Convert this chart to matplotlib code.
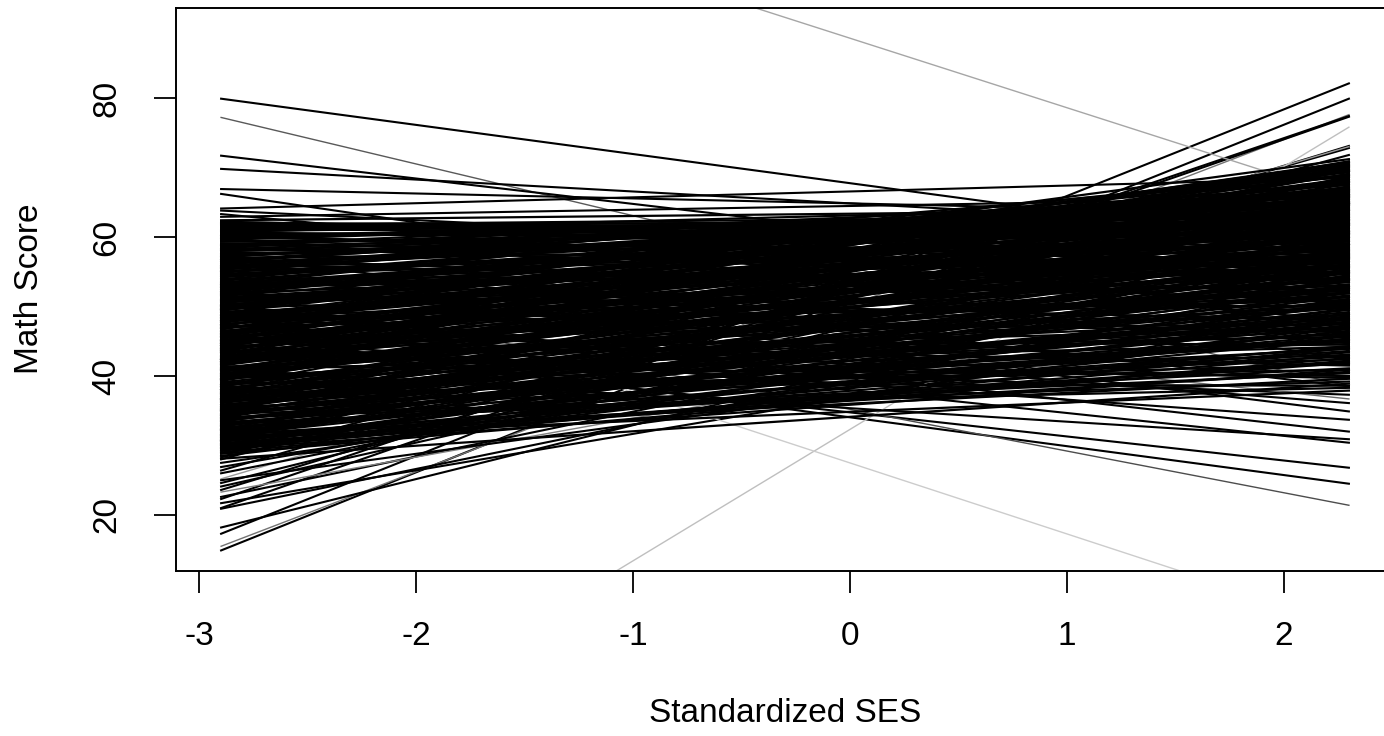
import matplotlib
matplotlib.use('Agg')
import matplotlib.pyplot as plt

# SES range covered by each school's fitted line
x_left = -2.9
x_right = 2.3

# fitted math score at the low / high end of SES, one entry per school (bulk of schools)
left_end = [
    62.4, 62.0, 61.7, 61.5, 61.1, 60.7, 60.6, 60.2, 59.9, 59.7,
    59.3, 59.0, 58.8, 58.3, 58.2, 57.9, 57.5, 57.4, 57.0, 56.7,
    56.6, 56.3, 55.9, 55.8, 55.3, 55.1, 54.9, 54.5, 54.3, 54.0,
    53.9, 53.5, 53.2, 53.1, 52.7, 52.4, 52.3, 51.9, 51.6, 51.5,
    51.1, 50.8, 50.7, 50.3, 50.0, 49.9, 49.5, 49.2, 49.1, 48.7,
    48.6, 48.3, 47.9, 47.8, 47.3, 47.1, 46.9, 46.5, 46.3, 46.0,
    45.9, 45.5, 45.4, 44.9, 44.7, 44.6, 44.2, 43.9, 43.8, 43.4,
    43.1, 42.9, 42.5, 42.3, 42.0, 41.9, 41.5, 41.2, 41.0, 40.7,
    40.4, 40.3, 39.9, 39.6, 39.5, 39.1, 38.8, 38.7, 38.3, 38.0,
    37.9, 37.5, 37.2, 37.1, 36.7, 36.4, 36.2, 35.9, 35.6, 35.5,
    35.1, 34.8, 34.7, 34.3, 34.0, 33.9, 33.5, 33.2, 33.1, 32.7,
    32.4, 32.3, 31.9, 31.6, 31.5, 31.1, 30.8, 30.7, 30.3, 30.0,
    29.9, 29.5, 29.4, 29.0,
    61.9, 61.3, 60.4, 59.6, 58.6, 57.7, 57.1, 56.1, 55.5, 54.7,
    53.7, 52.9, 52.1, 51.3, 50.5, 49.7, 49.0, 48.1, 47.5, 46.7,
    46.2, 45.7, 45.1, 44.4, 44.0, 43.6, 42.7, 42.2, 41.7, 41.1,
    40.6, 40.0, 39.3, 38.9, 38.5, 37.7, 37.4, 36.9, 36.6, 36.1,
    35.8, 35.3, 34.9, 34.5, 34.2, 33.7, 33.4, 32.9, 32.6, 32.1,
    31.8, 31.3, 30.9, 30.5, 30.2, 29.7, 29.2, 28.8, 28.5, 28.1,
    60.0, 58.5, 56.9, 55.0, 53.4, 51.8, 50.2, 48.9, 47.0, 45.2,
    43.3, 41.4, 39.8, 38.2, 36.3, 34.6, 33.0, 31.0, 62.1, 60.8,
    50.0, 48.4, 46.8, 45.0, 43.5, 42.0, 40.9, 39.4, 37.9, 36.6,
    55.6, 52.6, 49.4, 47.6, 44.3, 41.5, 38.4, 35.0, 32.2, 30.6,
    61.6, 60.9, 60.1, 59.4, 58.7, 58.0, 57.2, 56.4, 55.7, 55.0,
    54.2, 53.4, 52.6, 51.8, 51.0, 50.2, 49.4, 48.6, 47.8, 47.0,
    46.4, 45.6, 44.8, 44.1, 43.3, 42.5, 41.8, 41.0, 40.2, 39.5,
    38.7, 38.0, 37.3, 36.5, 35.8, 35.0, 34.3, 33.6, 32.8, 32.1,
    31.4, 30.6, 30.0, 29.6, 45.3, 43.0, 39.0, 36.8, 34.0, 31.2,
    47.9, 45.1, 43.7, 42.3, 52.0, 49.6, 47.2, 44.6, 42.8, 40.8,
    62.2, 61.2, 60.3, 58.9, 57.5, 56.1, 54.6, 53.0, 51.4, 49.8,
    48.0, 46.5, 44.9, 43.0, 41.2, 39.7, 37.6, 35.4, 33.3, 31.5,
    53.0, 50.6, 48.2, 46.0, 43.9, 42.4, 40.1, 37.0, 35.2, 33.8,
    58.0, 55.4, 52.8, 50.9, 48.8, 47.3, 45.6, 44.3, 42.2, 39.9,
]
right_end = [
    64.1, 57.9, 63.2, 62.7, 60.4, 65.0, 59.8, 61.6, 63.5, 64.6,
    60.7, 62.5, 66.0, 55.4, 64.8, 63.9, 61.9, 60.8, 58.6, 66.3,
    65.5, 63.0, 57.1, 67.0, 65.2, 60.3, 68.9, 62.6, 66.9, 54.8,
    67.7, 59.4, 64.3, 69.5, 56.2, 62.1, 66.6, 58.0, 68.1, 63.8,
    52.9, 61.2, 65.7, 57.6, 69.0, 60.0, 64.9, 55.8, 67.2, 62.4,
    58.7, 66.1, 53.6, 61.5, 68.3, 50.9, 63.6, 57.2, 65.0, 59.9,
    62.9, 55.0, 67.0, 48.7, 60.6, 64.6, 52.3, 58.4, 63.1, 56.6,
    61.0, 46.9, 54.1, 65.4, 59.1, 51.4, 62.2, 56.9, 44.6, 60.2,
    53.2, 63.3, 57.7, 49.8, 61.7, 55.6, 43.0, 59.5, 51.9, 57.0,
    47.8, 60.9, 54.4, 41.7, 58.2, 50.2, 56.1, 45.3, 53.0, 59.0,
    48.9, 55.3, 42.8, 51.6, 57.5, 46.2, 53.8, 40.4, 49.5, 55.9,
    44.1, 52.6, 47.3, 50.5, 39.6, 54.5, 45.7, 49.0, 42.2, 51.1,
    46.5, 40.9, 48.3, 44.0,
    62.1, 61.1, 59.8, 64.3, 62.3, 59.1, 66.0, 64.0, 67.5, 61.4,
    65.6, 57.3, 69.3, 60.8, 63.2, 66.8, 58.3, 64.2, 55.7, 69.7,
    61.3, 66.2, 57.9, 62.5, 54.7, 67.6, 59.7, 50.0, 63.9, 53.5,
    58.1, 46.0, 64.0, 54.0, 60.4, 52.0, 57.8, 48.4, 62.0, 54.2,
    50.8, 57.1, 45.0, 60.0, 52.7, 48.1, 56.5, 51.9, 43.6, 53.9,
    47.6, 55.1, 43.4, 49.7, 53.0, 45.4, 50.3, 42.6, 47.1, 38.9,
    56.3, 53.9, 50.8, 60.1, 55.0, 48.0, 57.0, 46.3, 51.3, 44.5,
    52.7, 40.0, 47.0, 40.9, 44.9, 38.3, 41.1, 37.9, 60.3, 63.0,
    70.2, 68.9, 70.5, 69.8, 68.1, 69.1, 66.5, 67.3, 65.8, 64.7,
    66.0, 65.5, 71.2, 70.8, 70.3, 70.4, 69.6, 68.7, 66.2, 64.9,
    61.7, 63.0, 63.8, 60.5, 64.8, 60.6, 65.1, 66.8, 62.8, 66.6,
    64.5, 68.7, 61.0, 66.4, 59.6, 63.4, 67.9, 60.9, 64.4, 57.6,
    65.8, 59.0, 62.0, 55.7, 65.1, 57.2, 60.7, 52.8, 58.9, 62.6,
    55.0, 59.4, 50.6, 57.3, 53.6, 49.2, 54.9, 47.7, 51.4, 45.9,
    48.6, 44.3, 41.9, 43.1, 41.5, 39.7, 38.6, 42.4, 39.2, 40.6,
    70.7, 70.0, 69.5, 70.9, 67.0, 70.1, 68.4, 67.9, 66.0, 65.2,
    58.9, 62.0, 54.6, 57.4, 60.9, 52.2, 58.8, 55.5, 49.9, 54.1,
    50.2, 47.4, 52.0, 45.6, 48.1, 44.2, 46.7, 43.9, 45.2, 42.0,
    62.7, 59.0, 56.0, 63.5, 58.6, 61.8, 55.3, 52.4, 56.8, 50.0,
    64.0, 64.9, 65.9, 62.9, 61.8, 66.7, 57.5, 61.9, 55.9, 60.5,
]

# schools that stand apart from the bulk, with their line shade (0 = black)
outlier_left = [
    79.9, 77.2, 71.7, 69.8, 66.9, 66.2, 64.1, 63.8, 63.3, 62.9,
    14.9, 15.5, 17.3, 18.2, 21.0, 22.3, 23.6, 26.4, 28.0, 25.2,
    20.9, 21.7, 22.6, 23.3, 24.1, 25.0, 26.0, 26.9, 27.5, 28.3, 28.9, 24.6,
    44.8, 46.1, 52.6, 47.5, 50.2, 45.3, 55.0, 48.8, 43.5, 57.2, 41.0, 53.7,
    117.6, -22.5, 57.1,
]
outlier_right = [
    58.1, 38.5, 52.7, 60.9, 63.2, 42.5, 68.5, 55.8, 47.9, 65.7,
    79.9, 77.6, 82.1, 58.5, 77.3, 77.4, 73.1, 72.8, 71.8, 73.0,
    54.0, 49.0, 56.2, 52.4, 60.6, 47.0, 58.0, 54.9, 50.6, 62.4, 57.4, 64.8,
    26.8, 24.5, 21.4, 30.4, 32.0, 33.7, 34.9, 36.1, 37.3, 38.5, 30.9, 36.7,
    65.6, 75.8, 4.0,
]
outlier_shade = [
    0.0, 0.35, 0.0, 0.0, 0.0, 0.0, 0.0, 0.0, 0.0, 0.0,
    0.0, 0.45, 0.0, 0.0, 0.0, 0.0, 0.0, 0.0, 0.0, 0.6,
    0.0, 0.0, 0.0, 0.5, 0.0, 0.0, 0.0, 0.0, 0.0, 0.0, 0.0, 0.0,
    0.0, 0.0, 0.3, 0.0, 0.0, 0.0, 0.0, 0.0, 0.0, 0.0, 0.0, 0.4,
    0.65, 0.75, 0.8,
]

plt.rcParams['font.family'] = ['Liberation Sans', 'DejaVu Sans']
plt.rcParams['axes.unicode_minus'] = False

fig = plt.figure(figsize=(13.84, 7.36), dpi=100)
ax = fig.add_axes([176 / 1384, 165 / 736, 1218 / 1384, 563 / 736])

for lo, hi, g in zip(outlier_left, outlier_right, outlier_shade):
    ax.plot([x_left, x_right], [lo, hi], color=str(g), lw=1.0 if g > 0 else 1.5)

for lo, hi in zip(left_end, right_end):
    ax.plot([x_left, x_right], [lo, hi], color='black', lw=1.6)

ax.set_xlim(-3.108, 2.508)
ax.set_ylim(11.94, 92.95)
ax.set_xticks([-3, -2, -1, 0, 1, 2])
ax.set_yticks([20, 40, 60, 80])
ax.tick_params(axis='both', direction='out', length=15.8, width=1.3, labelsize=24)
ax.tick_params(axis='x', pad=20)
ax.tick_params(axis='y', pad=23, labelrotation=90)
for lab in ax.get_yticklabels():
    lab.set_va('center')
for s in ax.spines.values():
    s.set_linewidth(1.4)

fig.text(785 / 1384, 1 - 714 / 736, 'Standardized SES', fontsize=24, ha='center', va='center')
fig.text(30 / 1384, 1 - 289 / 736, 'Math Score', fontsize=24, ha='center', va='center', rotation=90)

plt.savefig('out.png', dpi=100)
plt.close()
